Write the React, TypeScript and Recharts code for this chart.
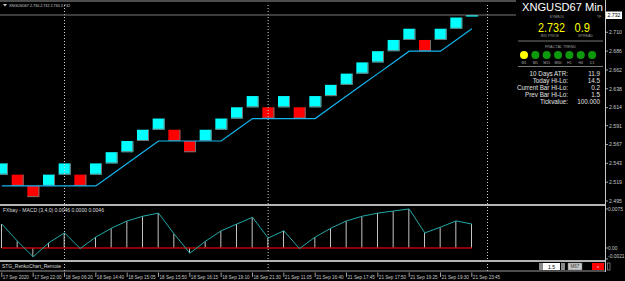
import React from 'react';
import { ComposedChart, Bar, Line, XAxis, YAxis, ReferenceLine } from 'recharts';

// ---------------- data ----------------
const timeLabels = [
  '17 Sep 2020', '17 Sep 22:00', '18 Sep 06:20', '18 Sep 14:40', '18 Sep 15:05', '18 Sep 15:50',
  '18 Sep 16:15', '18 Sep 19:10', '18 Sep 21:30', '21 Sep 11:05', '21 Sep 16:40', '21 Sep 17:45',
  '21 Sep 17:50', '21 Sep 19:25', '21 Sep 19:30', '21 Sep 23:45',
];

const brickOpen = [
  2.5286, 2.5286, 2.5143, 2.5143, 2.5286, 2.5286, 2.5286, 2.5429, 2.5572, 2.5715, 2.5858,
  2.5858, 2.5715, 2.5715, 2.5858, 2.6001, 2.6144, 2.6144, 2.6144, 2.6144, 2.6144, 2.6287,
  2.6430, 2.6573, 2.6716, 2.6859, 2.7002, 2.7002, 2.7002, 2.7145, 2.7300,
];
const brickClose = [
  2.5429, 2.5143, 2.5000, 2.5286, 2.5429, 2.5143, 2.5429, 2.5572, 2.5715, 2.5858, 2.6001,
  2.5715, 2.5572, 2.5858, 2.6001, 2.6144, 2.6287, 2.6001, 2.6287, 2.6001, 2.6287, 2.6430,
  2.6573, 2.6716, 2.6859, 2.7002, 2.7145, 2.6859, 2.7145, 2.7288, 2.7320,
];
const trailStop = [
  2.5143, 2.5143, 2.5143, 2.5143, 2.5143, 2.5143, 2.5143, 2.5286, 2.5429, 2.5572, 2.5715,
  2.5715, 2.5715, 2.5715, 2.5715, 2.5858, 2.6001, 2.6001, 2.6001, 2.6001, 2.6001, 2.6144,
  2.6287, 2.6430, 2.6573, 2.6716, 2.6859, 2.6859, 2.6859, 2.7002, 2.7145,
];
const macdValues = [
  0.0046, 0.0013, -0.0017, 0.0010, 0.0029, -0.0001, 0.0021, 0.0038, 0.0052, 0.0061, 0.0067,
  0.0027, -0.0010, 0.0013, 0.0033, 0.0046, 0.0059, 0.0019, 0.0033, -0.0001, 0.0021, 0.0038,
  0.0052, 0.0061, 0.0067, 0.0071, 0.0075, 0.0029, 0.0040, 0.0052, 0.0046,
];
const priceTicks = [2.710, 2.686, 2.662, 2.638, 2.614, 2.591, 2.567, 2.543, 2.519, 2.495];
const currentPrice = 2.732;
const macdTicks = [0.0075, 0, -0.0021];
const macdTickLabels = ['0.0075', '0.00', '-0.0021'];
const separatorSlots = [4, 17, 31];
const shiftSlots = 8; // empty chart-shift area on the right

const trendFrames = ['M1', 'M5', 'M15', 'M30', 'H1', 'H4', 'D1'];
const trendColors = ['#ffff00', '#0c9a0c', '#0c9a0c', '#0c9a0c', '#0c9a0c', '#0c9a0c', '#0c9a0c'];
const statLabels = ['10 Days ATR:', 'Today Hi-Lo:', 'Current Bar Hi-Lo:', 'Prev Bar Hi-Lo:', 'Tickvalue:'];
const statValues = ['11.9', '14.5', '0.2', '1.5', '100.000'];

// ---------------- build rows ----------------
const totalSlots = brickOpen.length + shiftSlots;
const mainData = Array.from({ length: totalSlots }, (_, i) =>
  i < brickOpen.length
    ? {
        i,
        brick: [Math.min(brickOpen[i], brickClose[i]), Math.max(brickOpen[i], brickClose[i])],
        up: brickClose[i] > brickOpen[i],
        trail: trailStop[i],
      }
    : { i }
);
const macdData = Array.from({ length: totalSlots }, (_, i) =>
  i < macdValues.length ? { i, macd: macdValues[i], hist: macdValues[i] } : { i }
);

const FONT = '"Liberation Sans", Arial, sans-serif';
const AXIS_TXT = '#c8c8c8';

const BrickShape = (p: any) => {
  const { x, y, width, height, payload } = p;
  if (!payload || payload.brick == null || height == null) return <g />;
  const h = Math.abs(height);
  const top = height < 0 ? y + height : y;
  const fill = payload.up ? '#00ffff' : '#ff0000';
  return (
    <g>
      <rect x={x} y={top} width={width} height={Math.max(h, 1.2)} fill={fill} />
      {h > 4 && (
        <path
          d={`M${x + width - 0.5},${top} V${top + h - 0.5} H${x}`}
          stroke="#707070"
          strokeWidth={1}
          fill="none"
        />
      )}
    </g>
  );
};

const PriceTag = (props: any) => {
  const vb = props.viewBox || {};
  const x = (vb.x || 0) + (vb.width || 0) + 1;
  const y = vb.y || 0;
  return (
    <g>
      <rect x={x} y={y - 3.5} width={16} height={7.5} fill="#ffffff" />
      <text x={x + 1.5} y={y + 2.2} fontSize={5.2} fill="#000" style={{ fontFamily: FONT }}>
        {currentPrice.toFixed(3)}
      </text>
    </g>
  );
};

const MacdTick = (props: any) => {
  const { x, y, payload } = props;
  const k = macdTicks.indexOf(payload.value);
  const label = macdTickLabels[k] ?? '';
  const dy = payload.value < 0 ? -2.5 : 0;
  return (
    <text x={x - 1} y={y + 1.8 + dy} fontSize={4.9} fill={AXIS_TXT} style={{ fontFamily: FONT }}>
      {label}
    </text>
  );
};

const TimeTick = (props: any) => {
  const { x, y, payload } = props;
  const idx = Number(payload.value);
  if (idx % 2 !== 0 || idx >= brickOpen.length) return <g />;
  const label = timeLabels[idx / 2];
  return (
    <g>
      <line x1={x} x2={x} y1={y + 1.5} y2={y + 6} stroke={AXIS_TXT} strokeWidth={0.8} />
      <text x={x + 1} y={y + 7.5} fontSize={4.6} fill={AXIS_TXT} style={{ fontFamily: FONT }}>
        {label}
      </text>
    </g>
  );
};

export default function App() {
  const sepStyle = { stroke: '#cfcfcf', strokeDasharray: '1 2', strokeWidth: 1 };
  return (
    <div
      style={{
        position: 'absolute',
        left: 0,
        top: 0,
        width: 625,
        height: 281,
        background: '#000',
        overflow: 'hidden',
        fontFamily: FONT,
      }}
    >
      {/* main renko pane */}
      <div style={{ position: 'absolute', left: -6, top: 0 }}>
        <ComposedChart
          width={631}
          height={204}
          data={mainData}
          margin={{ top: 3, right: 0, bottom: 0, left: 0 }}
        >
          <XAxis dataKey="i" type="category" hide />
          <YAxis
            orientation="right"
            width={20}
            type="number"
            domain={[2.4912, 2.7473]}
            allowDataOverflow
            ticks={priceTicks}
            tickFormatter={(v: number) => v.toFixed(3)}
            axisLine={false}
            tickLine={{ stroke: AXIS_TXT, strokeWidth: 0.8 }}
            tickSize={3}
            tickMargin={1}
            tick={{ fontSize: 5.2, fill: AXIS_TXT, fontFamily: FONT }}
            interval={0}
          />
          {separatorSlots.map((s) => (
            <ReferenceLine key={s} x={s} {...sepStyle} />
          ))}
          <ReferenceLine y={currentPrice} stroke="#7a7a7a" strokeWidth={1} label={PriceTag} />
          <Bar dataKey="brick" barSize={12} isAnimationActive={false} shape={BrickShape} />
          <Line
            dataKey="trail"
            type="linear"
            stroke="#12b4ee"
            strokeWidth={1.2}
            dot={false}
            isAnimationActive={false}
          />
        </ComposedChart>
      </div>

      {/* MACD pane */}
      <div style={{ position: 'absolute', left: -6, top: 204 }}>
        <ComposedChart
          width={631}
          height={77}
          data={macdData}
          margin={{ top: 2, right: 0, bottom: 0, left: 0 }}
        >
          <XAxis
            dataKey="i"
            type="category"
            height={10}
            interval={0}
            axisLine={{ stroke: '#9a9a9a' }}
            tickLine={false}
            tickSize={0}
            tickMargin={0}
            tick={TimeTick}
          />
          <YAxis
            orientation="right"
            width={20}
            type="number"
            domain={[-0.004416, 0.008065]}
            allowDataOverflow
            ticks={macdTicks}
            axisLine={false}
            tickLine={{ stroke: AXIS_TXT, strokeWidth: 0.8 }}
            tickSize={3}
            tickMargin={1}
            tick={MacdTick}
            interval={0}
          />
          {separatorSlots.map((s) => (
            <ReferenceLine key={s} x={s} {...sepStyle} />
          ))}
          <Bar dataKey="hist" barSize={1} fill="#c4c4c4" isAnimationActive={false} />
          <ReferenceLine
            segment={[
              { x: 0, y: 0 },
              { x: macdValues.length - 1, y: 0 },
            ]}
            stroke="#c00000"
            strokeWidth={1.4}
          />
          <Line
            dataKey="macd"
            type="linear"
            stroke="#22a8a8"
            strokeWidth={1}
            dot={false}
            isAnimationActive={false}
          />
        </ComposedChart>
      </div>

      {/* overlay: window frame, labels, info panel */}
      <svg
        width={625}
        height={281}
        style={{ position: 'absolute', left: 0, top: 0, pointerEvents: 'none', fontFamily: FONT }}
      >
        <line x1={0} x2={605} y1={1} y2={1} stroke="#9a9a9a" strokeWidth={1} />
        <polygon points="3,4 7,4 5,6.5" fill="#cfcfcf" />
        <text x={9} y={7} fontSize={4.2} fill="#cfcfcf" textLength={61} lengthAdjust="spacingAndGlyphs">
          XNGUSD67 2.730 2.732 2.730 2.732
        </text>

        <rect x={0} y={204} width={605} height={2} fill="#b4b4b4" />
        <rect x={0} y={260} width={605} height={2} fill="#b4b4b4" />
        <text x={3} y={212} fontSize={4.5} fill="#dcdcdc" textLength={101} lengthAdjust="spacingAndGlyphs">
          FXbay - MACD (3,4,0) 0.0046 0.0000 0.0046
        </text>
        <text x={2} y={268} fontSize={4.5} fill="#dcdcdc" textLength={59} lengthAdjust="spacingAndGlyphs">
          STG_RenkoChart_Remote
        </text>
        <line x1={605.5} x2={605.5} y1={0} y2={272} stroke="#c8c8c8" strokeWidth={1} />

        {/* bottom controls */}
        <rect x={539} y={263} width={4} height={7} fill="#8a8a8a" />
        <rect x={543} y={263} width={17} height={7} fill="#ffffff" />
        <text x={551.5} y={268.6} fontSize={5} fill="#000" textAnchor="middle">1.5</text>
        <rect x={561} y={263} width={4} height={7} fill="#8a8a8a" />
        <rect x={568} y={263} width={14} height={7} fill="#c8c8c8" stroke="#777" strokeWidth={0.5} />
        <text x={575} y={268.4} fontSize={4.5} fill="#333" textAnchor="middle">M67</text>
        <rect x={592} y={263} width={12} height={7} fill="#ff0000" />
        <text x={598} y={268.4} fontSize={4} fill="#fff" textAnchor="middle">x</text>
        <rect x={607.5} y={263} width={2.5} height={7} fill="none" stroke="#aaa" strokeWidth={0.6} />

        {/* info panel */}
        <rect x={516} y={0} width={89} height={110} fill="#000" />
        <text x={603} y={11.3} fontSize={11.5} fill="#ffffff" textAnchor="end" textLength={81} lengthAdjust="spacingAndGlyphs">
          XNGUSD67 Min
        </text>
        <text x={557} y={17.5} fontSize={3.6} fill="#9a9a9a" textAnchor="middle">SYMBOL</text>
        <text x={599} y={17.5} fontSize={3.6} fill="#9a9a9a" textAnchor="middle">TF</text>
        <text x={538} y={31.8} fontSize={12} fill="#ffff00" textLength={27} lengthAdjust="spacingAndGlyphs">
          2.732
        </text>
        <text x={574.5} y={31.8} fontSize={12} fill="#ffff00" textLength={15.5} lengthAdjust="spacingAndGlyphs">
          0.9
        </text>
        <text x={550} y={37} fontSize={3.6} fill="#9a9a9a" textAnchor="middle">BID PRICE</text>
        <text x={585.5} y={37} fontSize={3.6} fill="#9a9a9a" textAnchor="middle">SPREAD</text>
        <line x1={518} x2={603} y1={41} y2={41} stroke="#777" strokeWidth={1} />
        <text x={560.5} y={47.5} fontSize={3.8} fill="#9a9a9a" textAnchor="middle">FRACTAL TREND</text>
        {trendFrames.map((f, k) => {
          const cx = 524 + k * 11.35;
          return (
            <g key={f}>
              <circle cx={cx} cy={55} r={4} fill={trendColors[k]} />
              <text x={cx} y={63.5} fontSize={3.6} fill="#aaaaaa" textAnchor="middle">{f}</text>
            </g>
          );
        })}
        <line x1={518} x2={603} y1={66.5} y2={66.5} stroke="#777" strokeWidth={1} />
        {statLabels.map((s, k) => (
          <g key={s}>
            <text x={568} y={76.3 + k * 7} fontSize={6.3} fill="#e0e0e0" textAnchor="end">{s}</text>
            <text x={600} y={76.3 + k * 7} fontSize={6.3} fill="#e0e0e0" textAnchor="end">{statValues[k]}</text>
          </g>
        ))}
      </svg>
    </div>
  );
}
